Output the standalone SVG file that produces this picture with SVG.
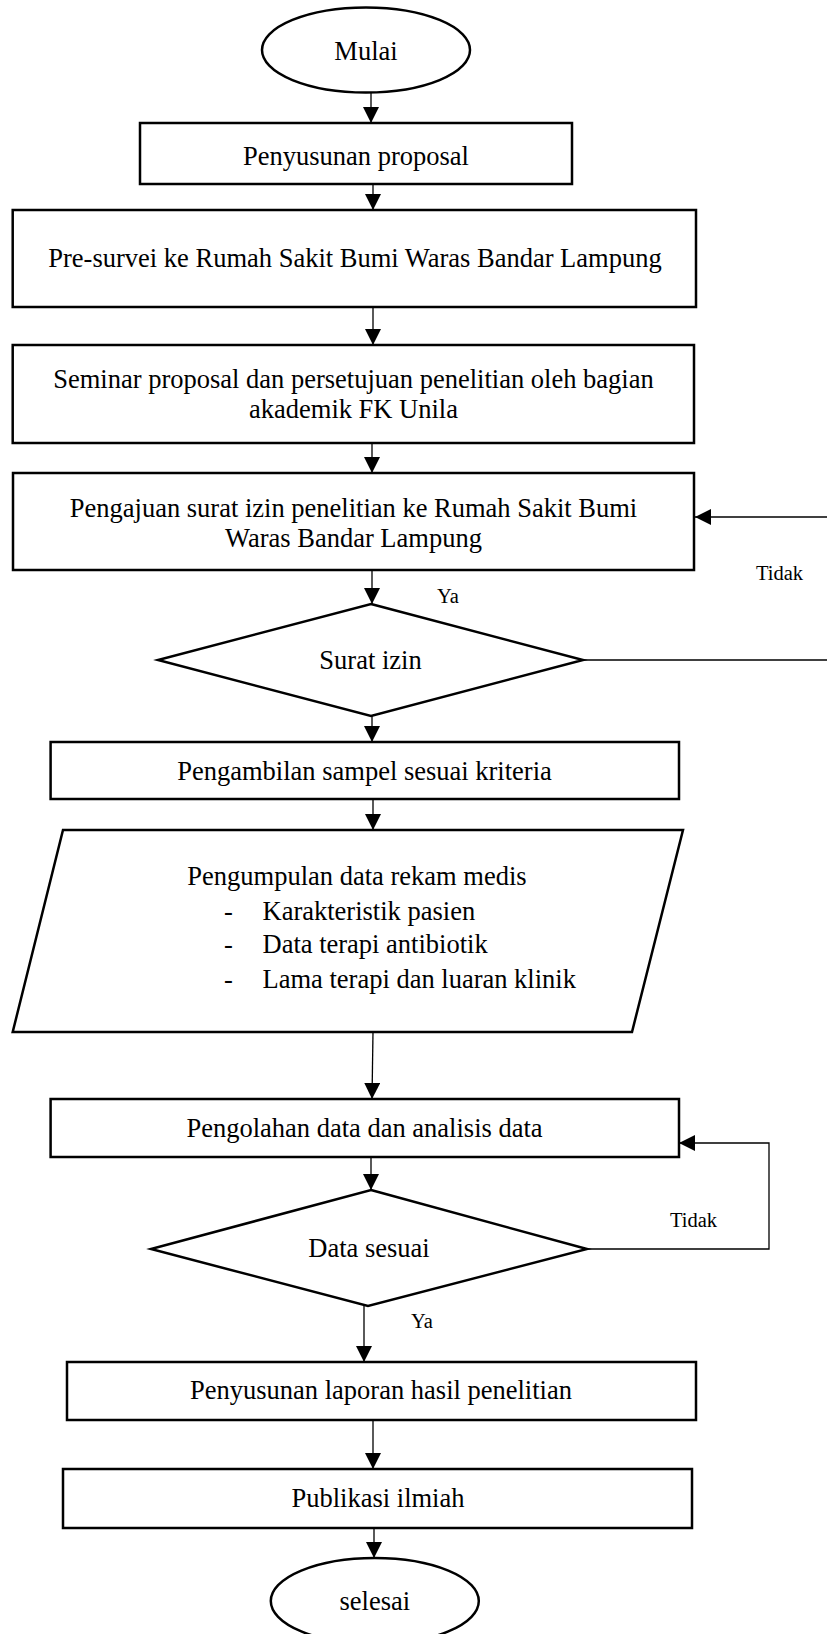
<svg xmlns="http://www.w3.org/2000/svg" width="827" height="1634" viewBox="0 0 827 1634">
<style>
.box{fill:#fff;stroke:#000;stroke-width:2.5}
.t{font-family:"Liberation Serif","Times New Roman",serif;font-size:26.5px;fill:#000;text-anchor:middle}
.tl{font-family:"Liberation Serif","Times New Roman",serif;font-size:26.5px;fill:#000}
.s{font-family:"Liberation Serif","Times New Roman",serif;font-size:20.5px;fill:#000}
.c{fill:none;stroke:#000;stroke-width:1.3}
</style>
<defs>
<marker id="ah" markerUnits="userSpaceOnUse" markerWidth="16" markerHeight="16" refX="16" refY="8" orient="auto">
<path d="M0,0 L16,8 L0,16 z" fill="#000"/>
</marker>
</defs>
<rect width="827" height="1634" fill="#fff"/>
<g id="connectors">
<line class="c" x1="371" y1="92" x2="371" y2="123" marker-end="url(#ah)"/>
<line class="c" x1="373" y1="184" x2="373" y2="210" marker-end="url(#ah)"/>
<line class="c" x1="373" y1="307" x2="373" y2="345" marker-end="url(#ah)"/>
<line class="c" x1="372" y1="443" x2="372" y2="473" marker-end="url(#ah)"/>
<line class="c" x1="372" y1="570" x2="372" y2="604" marker-end="url(#ah)"/>
<line class="c" x1="372" y1="716" x2="372" y2="742" marker-end="url(#ah)"/>
<line class="c" x1="373" y1="799" x2="373" y2="830" marker-end="url(#ah)"/>
<line class="c" x1="373" y1="1032" x2="372" y2="1099" marker-end="url(#ah)"/>
<line class="c" x1="371" y1="1157" x2="371" y2="1190" marker-end="url(#ah)"/>
<line class="c" x1="364" y1="1306" x2="364" y2="1362" marker-end="url(#ah)"/>
<line class="c" x1="373" y1="1420" x2="373" y2="1469" marker-end="url(#ah)"/>
<line class="c" x1="374" y1="1528" x2="374" y2="1558" marker-end="url(#ah)"/>
<polyline class="c" points="587,1249 769,1249 769,1143 679,1143" marker-end="url(#ah)"/>
<line class="c" x1="583" y1="660" x2="827" y2="660"/>
<line class="c" x1="827" y1="517" x2="695" y2="517" marker-end="url(#ah)"/>
<text class="s" x="756" y="580">Tidak</text>
<text class="s" x="437" y="603">Ya</text>
<text class="s" x="670" y="1227">Tidak</text>
<text class="s" x="411" y="1328">Ya</text>
</g>
<g id="mulai">
<ellipse class="box" cx="366" cy="50" rx="104" ry="42.5"/>
<text class="t" x="366" y="60">Mulai</text>
</g>
<g id="penyusunan-proposal">
<rect class="box" x="140" y="123" width="432" height="61"/>
<text class="t" x="356" y="165">Penyusunan proposal</text>
</g>
<g id="pre-survei">
<rect class="box" x="12.7" y="210" width="683.3" height="97"/>
<text class="t" x="355" y="266.5">Pre-survei ke Rumah Sakit Bumi Waras Bandar Lampung</text>
</g>
<g id="seminar">
<rect class="box" x="12.7" y="345" width="681.3" height="98"/>
<text class="t" x="353.5" y="388">Seminar proposal dan persetujuan penelitian oleh bagian</text>
<text class="t" x="353.5" y="418">akademik FK Unila</text>
</g>
<g id="pengajuan">
<rect class="box" x="13" y="473" width="681" height="97"/>
<text class="t" x="353.5" y="517">Pengajuan surat izin penelitian ke Rumah Sakit Bumi</text>
<text class="t" x="353.5" y="547">Waras Bandar Lampung</text>
</g>
<g id="surat-izin">
<polygon class="box" points="371,604 583,660 371,716 158,660"/>
<text class="t" x="370.5" y="669">Surat izin</text>
</g>
<g id="pengambilan">
<rect class="box" x="50.6" y="742" width="628.4" height="57"/>
<text class="t" x="364.5" y="780">Pengambilan sampel sesuai kriteria</text>
</g>
<g id="pengumpulan">
<polygon class="box" points="63,830 683,830 632,1032 12.7,1032"/>
<text class="t" x="357" y="885">Pengumpulan data rekam medis</text>
<text class="tl" x="224" y="920">-</text>
<text class="tl" x="262.5" y="920">Karakteristik pasien</text>
<text class="tl" x="224" y="953">-</text>
<text class="tl" x="262.5" y="953">Data terapi antibiotik</text>
<text class="tl" x="224" y="987.5">-</text>
<text class="tl" x="262.5" y="987.5">Lama terapi dan luaran klinik</text>
</g>
<g id="pengolahan">
<rect class="box" x="50.6" y="1099" width="628.4" height="58"/>
<text class="t" x="364.5" y="1137">Pengolahan data dan analisis data</text>
</g>
<g id="data-sesuai">
<polygon class="box" points="371,1190 587,1249 368,1306 151,1249"/>
<text class="t" x="369" y="1257">Data sesuai</text>
</g>
<g id="laporan">
<rect class="box" x="67" y="1362" width="629" height="58"/>
<text class="t" x="381" y="1399">Penyusunan laporan hasil penelitian</text>
</g>
<g id="publikasi">
<rect class="box" x="63" y="1469" width="629" height="59"/>
<text class="t" x="378" y="1507">Publikasi ilmiah</text>
</g>
<g id="selesai">
<ellipse class="box" cx="374.8" cy="1601" rx="104" ry="43"/>
<text class="t" x="374.8" y="1610">selesai</text>
</g>
</svg>
